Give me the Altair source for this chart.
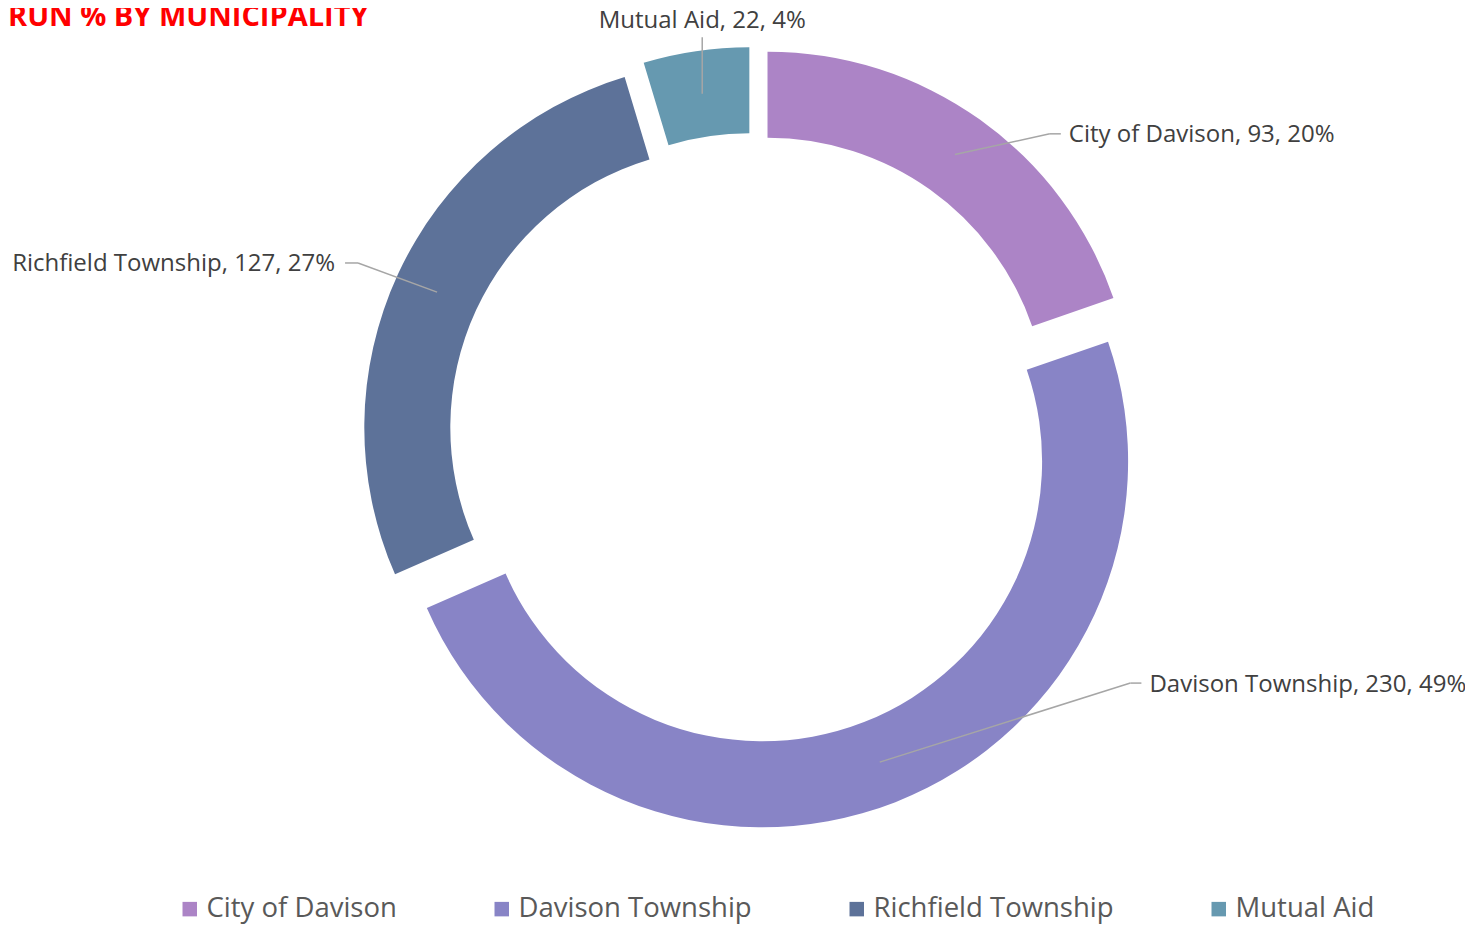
import math
import altair as alt
import pandas as pd

# ---------------- data ----------------
names = ["City of Davison", "Davison Township", "Richfield Township", "Mutual Aid"]
counts = [93, 230, 127, 22]
pct_labels = ["20%", "49%", "27%", "4%"]
colors = ["#AC84C6", "#8884C6", "#5D7299", "#6699B0"]
title_text = "RUN % BY MUNICIPALITY"

# ---------------- layout / style ----------------
W, H = 1457, 918
CX, CY = 745, 430          # donut centre (pixels)
R_OUT, R_IN = 366, 280     # ring radii
EXPLODE = 25               # point explosion
LABEL_ANGLE = [44.3, 123.0, 293.9, 352.7]   # label elbow direction (deg, clockwise from 12 o'clock)
LABEL_RADIUS = [425, 450, 432, 404]         # label elbow distance from centre
LABEL_SIDE = ["right", "right", "left", "top"]
TICK = 11
FONT = "Open Sans"
LABEL_SIZE = 24

total = float(sum(counts))
arc_rows, seg_rows, lab_rows = [], [], []
cum = 0.0
for i, (n, c, p) in enumerate(zip(names, counts, pct_labels)):
    t0 = cum / total * 2 * math.pi
    cum += c
    t1 = cum / total * 2 * math.pi
    tm = (t0 + t1) / 2
    sx = CX + EXPLODE * math.sin(tm)
    sy = CY - EXPLODE * math.cos(tm)
    arc_rows.append(dict(name=n, t0=t0, t1=t1, cx=sx, cy=sy, order=i))
    # leader line start: middle of the ring along mid-angle
    rm = (R_OUT + R_IN) / 2
    ax = sx + rm * math.sin(tm)
    ay = sy - rm * math.cos(tm)
    la = math.radians(LABEL_ANGLE[i])
    ex = CX + LABEL_RADIUS[i] * math.sin(la)
    ey = CY - LABEL_RADIUS[i] * math.cos(la)
    side = LABEL_SIDE[i]
    text = f"{n}, {c}, {p}"
    if side == "top":
        ex = ax
        seg_rows.append(dict(x=ax, y=ay, x2=ex, y2=ey))
        lab_rows.append(dict(label=text, tx=ex, ty=ey - 9, side=side))
    elif side == "right":
        seg_rows.append(dict(x=ax, y=ay, x2=ex, y2=ey))
        seg_rows.append(dict(x=ex, y=ey, x2=ex + TICK, y2=ey))
        lab_rows.append(dict(label=text, tx=ex + 19, ty=ey + 8.5, side=side))
    else:
        seg_rows.append(dict(x=ax, y=ay, x2=ex, y2=ey))
        seg_rows.append(dict(x=ex, y=ey, x2=ex - TICK - 2, y2=ey))
        lab_rows.append(dict(label=text, tx=ex - 23, ty=ey + 8.5, side=side))

arc_df = pd.DataFrame(arc_rows)
seg_df = pd.DataFrame(seg_rows)
lab_df = pd.DataFrame(lab_rows)
title_df = pd.DataFrame([dict(t=title_text, tx=0, ty=18)])

legend = alt.Legend(
    title=None, orient="none", legendX=168, legendY=887, direction="horizontal",
    symbolType="square", symbolSize=210, symbolStrokeWidth=0,
    labelFont=FONT, labelFontSize=27.5, labelColor="#595959",
    labelOffset=3, columnPadding=91, padding=0, labelLimit=0,
)

arcs = alt.Chart(arc_df).mark_arc(innerRadius=R_IN, outerRadius=R_OUT).encode(
    x=alt.X("cx:Q", scale=None, axis=None),
    y=alt.Y("cy:Q", scale=None, axis=None),
    theta=alt.Theta("t0:Q", scale=None),
    theta2="t1:Q",
    color=alt.Color("name:N", scale=alt.Scale(domain=names, range=colors), legend=legend),
    order=alt.Order("order:Q"),
)

leaders = alt.Chart(seg_df).mark_rule(color="#A6A6A6", strokeWidth=1.5).encode(
    x=alt.X("x:Q", scale=None, axis=None),
    y=alt.Y("y:Q", scale=None, axis=None),
    x2="x2:Q",
    y2="y2:Q",
)

def label_layer(side, align):
    return alt.Chart(lab_df).transform_filter(alt.datum.side == side).mark_text(
        align=align, baseline="alphabetic", font=FONT, fontSize=LABEL_SIZE, color="#404040"
    ).encode(
        x=alt.X("tx:Q", scale=None, axis=None),
        y=alt.Y("ty:Q", scale=None, axis=None),
        text="label:N",
    )

title = alt.Chart(title_df).mark_text(
    align="left", baseline="alphabetic", font=FONT, fontSize=29, fontWeight="bold", color="#FF0000"
).encode(
    x=alt.X("tx:Q", scale=None, axis=None),
    y=alt.Y("ty:Q", scale=None, axis=None),
    text="t:N",
)

chart = alt.layer(
    arcs, leaders,
    label_layer("right", "left"), label_layer("left", "right"), label_layer("top", "center"),
    title,
).properties(
    width=W, height=H, padding=0, autosize=alt.AutoSizeParams(type="none"),
).configure_view(stroke=None)

chart.save("out.html", embed_options={"renderer": "svg", "actions": False})
